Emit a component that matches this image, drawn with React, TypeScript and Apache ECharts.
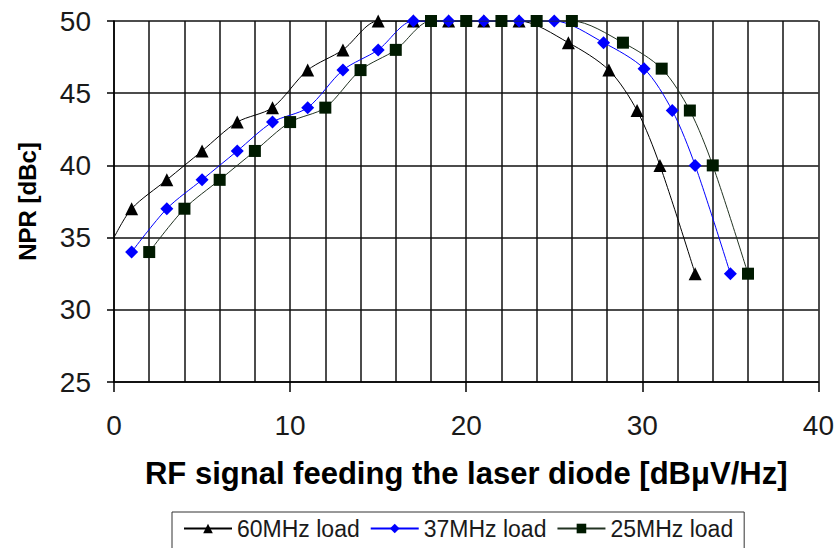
import React, { useEffect, useRef } from "react";
import * as echarts from "echarts";

const xTicks = [0, 10, 20, 30, 40];
const yTicks = [25, 30, 35, 40, 45, 50];

const seriesNames = ["60MHz load", "37MHz load", "25MHz load"];

const x60 = [0, 1, 3, 5, 7, 9, 11, 13, 15, 17, 19, 21, 23, 25.8, 28.1, 29.7, 31, 33];
const y60 = [35, 37, 39, 41, 43, 44, 46.6, 48, 50, 50, 50, 50, 50, 48.5, 46.6, 43.8, 40, 32.5];

const x37 = [1, 3, 5, 7, 9, 11, 13, 15, 17, 19, 21, 23, 25, 27.8, 30.1, 31.7, 33, 35];
const y37 = [34, 37, 39, 41, 43, 44, 46.6, 48, 50, 50, 50, 50, 50, 48.5, 46.7, 43.8, 40, 32.5];

const x25 = [2, 4, 6, 8, 10, 12, 14, 16, 18, 20, 22, 24, 26, 28.9, 31.1, 32.7, 34, 36];
const y25 = [34, 37, 39, 41, 43, 44, 46.6, 48, 50, 50, 50, 50, 50, 48.5, 46.7, 43.8, 40, 32.5];

const FONT = "'Liberation Sans', Arial, sans-serif";

function pairs(xs: number[], ys: number[], hideFirst = false) {
  return xs.map((x, i) =>
    hideFirst && i === 0 ? { value: [x, ys[i]], symbol: "none" } : { value: [x, ys[i]] }
  );
}

export default function App() {
  const ref = useRef<HTMLDivElement>(null);
  useEffect(() => {
    document.body.style.margin = "0";
    const chart = echarts.init(ref.current!, undefined, { renderer: "svg" });
    const gridLine = { color: "#111", width: 1.5 };
    chart.setOption({
      animation: false,
      backgroundColor: "#ffffff",
      textStyle: { fontFamily: FONT },
      grid: { left: 114, right: 15, top: 21, bottom: 166, containLabel: false },
      xAxis: {
        type: "value",
        min: xTicks[0],
        max: xTicks[xTicks.length - 1],
        interval: 10,
        name: "RF signal feeding the laser diode [dBμV/Hz]",
        nameLocation: "middle",
        nameGap: 76,
        nameTextStyle: { fontSize: 31, fontWeight: "bold", color: "#000", fontFamily: FONT },
        axisLine: { show: true, lineStyle: { color: "#000", width: 1.5 } },
        axisTick: { show: true, length: 10, lineStyle: { color: "#000", width: 1.5 } },
        axisLabel: { fontSize: 28, color: "#1a1a1a", margin: 29, fontFamily: FONT },
        splitLine: { show: true, lineStyle: gridLine },
        minorTick: { show: false, splitNumber: 5 },
        minorSplitLine: { show: true, lineStyle: gridLine },
      },
      yAxis: {
        type: "value",
        min: yTicks[0],
        max: yTicks[yTicks.length - 1],
        interval: 5,
        name: "NPR [dBc]",
        nameLocation: "middle",
        nameGap: 75,
        nameTextStyle: { fontSize: 24, fontWeight: "bold", color: "#000", fontFamily: FONT },
        axisLine: { show: true, lineStyle: { color: "#000", width: 1.5 } },
        axisTick: { show: true, length: 7, lineStyle: { color: "#000", width: 1.5 } },
        axisLabel: { fontSize: 28, color: "#1a1a1a", margin: 23, fontFamily: FONT },
        splitLine: { show: true, lineStyle: gridLine },
      },
      legend: {
        left: 172,
        top: 512,
        orient: "horizontal",
        borderColor: "#333",
        borderWidth: 1,
        padding: [5, 11, 20, 11],
        itemGap: 10,
        itemWidth: 48,
        itemHeight: 12,
        textStyle: { fontSize: 23, color: "#1a1a1a", fontFamily: FONT },
        data: seriesNames,
      },
      series: [
        {
          name: seriesNames[0],
          type: "line",
          smooth: 0.3,
          data: pairs(x60, y60, true),
          symbol: "triangle",
          symbolSize: 13,
          lineStyle: { color: "#000", width: 1 },
          itemStyle: { color: "#000" },
          z: 3,
        },
        {
          name: seriesNames[1],
          type: "line",
          smooth: 0.3,
          data: pairs(x37, y37),
          symbol: "diamond",
          symbolSize: 13,
          lineStyle: { color: "#0000ff", width: 1 },
          itemStyle: { color: "#0000ff" },
          z: 4,
        },
        {
          name: seriesNames[2],
          type: "line",
          smooth: 0.3,
          data: pairs(x25, y25),
          symbol: "rect",
          symbolSize: 12,
          lineStyle: { color: "#223322", width: 1 },
          itemStyle: { color: "#001a00" },
          z: 5,
        },
      ],
    });
    return () => chart.dispose();
  }, []);
  return <div ref={ref} style={{ width: 837, height: 548 }} />;
}
